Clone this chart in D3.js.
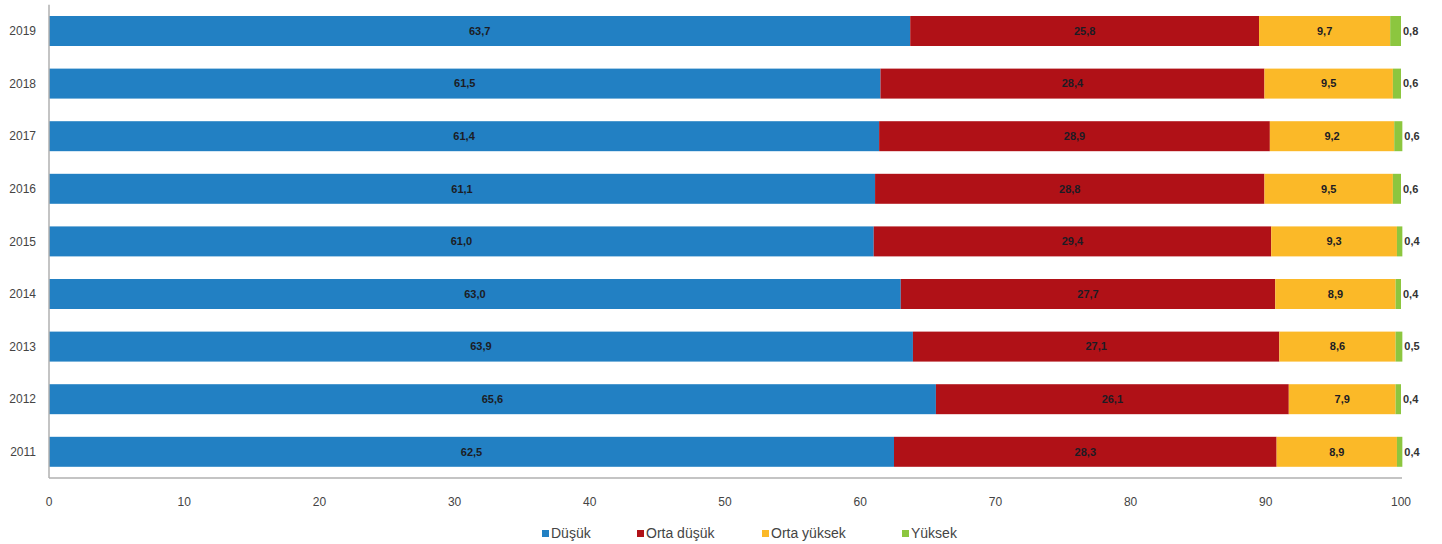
<!DOCTYPE html>
<html><head><meta charset="utf-8">
<script src="https://cdn.jsdelivr.net/npm/d3@7"></script>
<style>body{margin:0;background:#fff;font-family:"Liberation Sans",Arial,sans-serif}</style>
</head><body><svg id="c" width="1442" height="544"></svg>
<script>
const years = ["2019","2018","2017","2016","2015","2014","2013","2012","2011"];
const dusuk = [63.7,61.5,61.4,61.1,61.0,63.0,63.9,65.6,62.5];
const ortaDusuk = [25.8,28.4,28.9,28.8,29.4,27.7,27.1,26.1,28.3];
const ortaYuksek = [9.7,9.5,9.2,9.5,9.3,8.9,8.6,7.9,8.9];
const yuksek = [0.8,0.6,0.6,0.6,0.4,0.4,0.5,0.4,0.4];
const seriesNames = ["Düşük","Orta düşük","Orta yüksek","Yüksek"];
const colors = ["#2280c3","#b01117","#fbb928","#8cc63f"];
const xTicks = [0,10,20,30,40,50,60,70,80,90,100];

const svg = d3.select("#c");
const x = d3.scaleLinear().domain([0,100]).range([49,1401]);
const y = d3.scaleBand().domain(years).range([4.7,478.1]).paddingInner(0.43).paddingOuter(0.215);
const all = [dusuk, ortaDusuk, ortaYuksek, yuksek];
const fmt = v => v.toFixed(1).replace(".", ",");

years.forEach((yr,i)=>{
  let acc = 0;
  all.forEach((arr,s)=>{
    const v = arr[i];
    svg.append("rect").attr("x",x(acc)).attr("y",y(yr)).attr("width",x(acc+v)-x(acc)).attr("height",y.bandwidth()).attr("fill",colors[s]);
    const t = svg.append("text").attr("y",y(yr)+y.bandwidth()/2).attr("dy","0.35em")
      .attr("font-size",11).attr("font-weight","bold").attr("fill","#1c1c24").text(fmt(v));
    if (s<3) t.attr("x",(x(acc)+x(acc+v))/2).attr("text-anchor","middle");
    else t.attr("x",x(acc+v)+2).attr("text-anchor","start").attr("fill","#333");
    acc += v;
  });
});

// axes
svg.append("line").attr("x1",49).attr("x2",49).attr("y1",4.7).attr("y2",478).attr("stroke","#b0b0b0").attr("stroke-width",1.5);
svg.append("line").attr("x1",49).attr("x2",1402).attr("y1",478).attr("y2",478).attr("stroke","#b0b0b0").attr("stroke-width",1.5);
svg.selectAll(".yl").data(years).enter().append("text").attr("x",36).attr("y",d=>y(d)+y.bandwidth()/2).attr("dy","0.35em")
  .attr("text-anchor","end").attr("font-size",12).attr("fill","#444").text(d=>d);
svg.selectAll(".xl").data(xTicks).enter().append("text").attr("x",d=>x(d)).attr("y",502).attr("dy","0.35em")
  .attr("text-anchor","middle").attr("font-size",12).attr("fill","#444").text(d=>d);

// legend
const lx = [542,637,762,902];
seriesNames.forEach((n,i)=>{
  svg.append("rect").attr("x",lx[i]).attr("y",530).attr("width",7).attr("height",7).attr("fill",colors[i]);
  svg.append("text").attr("x",lx[i]+9).attr("y",533.5).attr("dy","0.35em").attr("font-size",14).attr("fill","#444").text(n);
});
</script></body></html>
